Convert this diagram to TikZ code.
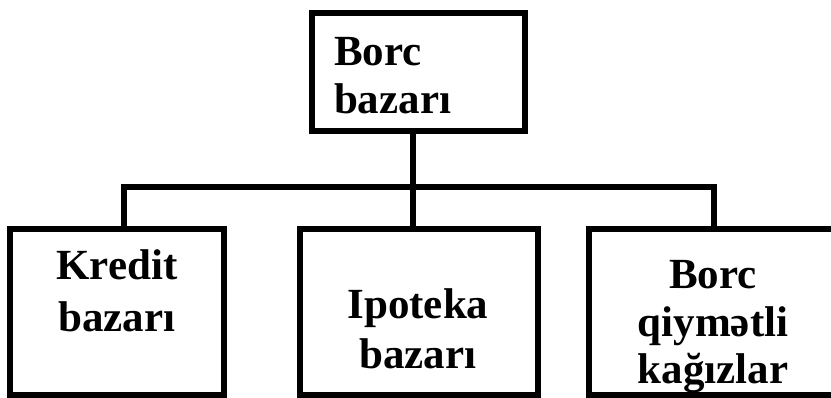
\documentclass[tikz,border=0pt]{standalone}
\usepackage{fontspec}
\setmainfont{Liberation Serif}
\begin{document}
\begin{tikzpicture}[x=1pt,y=-1pt,
  boxnode/.style={draw=black,line width=6pt,rectangle,inner sep=0pt,outer sep=0pt,fill=white},
  txt/.style={inner sep=0pt,outer sep=0pt},
  conn/.style={draw=black,line width=6pt}]
\useasboundingbox (0,0) rectangle (831,397);
% boxes
\node[boxnode,minimum width=213pt,minimum height=118pt] (top) at (418.5,72) {};
\node[boxnode,minimum width=214pt,minimum height=166.5pt] (kred) at (117,311.75) {};
\node[boxnode,minimum width=238pt,minimum height=166.5pt] (ipo) at (419,311.75) {};
\node[boxnode,minimum width=248pt,minimum height=166.5pt] (qiy) at (713,311.75) {};
% texts
\node[txt,anchor=west,align=left,font={\bfseries\fontsize{43}{48}\selectfont}] (ttop) at (334,75.5) {Borc\\bazarı};
\node[txt,align=center,font={\bfseries\fontsize{43}{52}\selectfont}] (tkred) at (117,290.5) {Kredit\\bazarı};
\node[txt,align=center,font={\bfseries\fontsize{43}{50}\selectfont}] (tipo) at (418,328.5) {Ipoteka\\bazarı};
\node[txt,align=center,font={\bfseries\fontsize{43}{47.5}\selectfont}] (tqiy) at (713,327) {Borc\\qiymətli\\kağızlar};
% connector points
\coordinate (s0) at (413,131);
\coordinate (bus) at (413,187);
\coordinate (s1) at (123.5,228.5);
\coordinate (s2) at (413,228.5);
\coordinate (s3) at (713.5,228.5);
\draw[conn] (s0) -- (s2);
\draw[conn] (s1) |- (bus) -| (s3);
\end{tikzpicture}
\end{document}
